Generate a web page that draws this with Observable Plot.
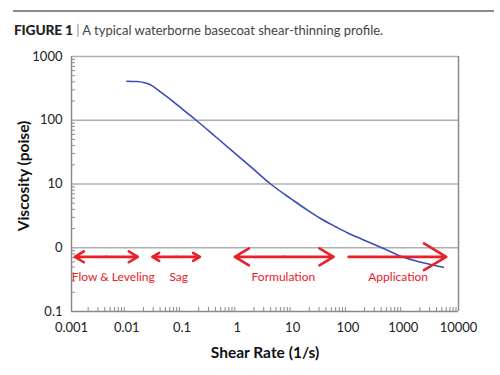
<!DOCTYPE html>
<html><head><meta charset="utf-8">
<script src="https://cdn.jsdelivr.net/npm/d3@7"></script>
<script src="https://cdn.jsdelivr.net/npm/@observablehq/plot@0.6"></script>
<style>
body{margin:0;background:#fff;font-family:Lato,"Open Sans",sans-serif;}
#wrap{width:500px;height:375px;position:relative;overflow:hidden;background:#fff;}
#rule{position:absolute;left:13px;top:10px;width:481px;height:2px;background:#8c8c8c;}
#title{position:absolute;left:14px;top:22px;font-size:13px;line-height:16px;color:#444;white-space:nowrap;}
#title b{color:#222;font-weight:900;letter-spacing:-0.2px;font-size:13.8px;}
#title .bar{color:#888;}
#chart{position:absolute;left:0;top:44px;}
</style></head><body>
<div id="wrap">
  <div id="rule"></div>
  <div id="title"><b>FIGURE 1</b> <span class="bar">|</span> A typical waterborne basecoat shear-thinning profile.</div>
  <div id="chart"></div>
</div>
<script>
// Curve data (shear rate in 1/s, viscosity in poise)
const shearRate = [0.01, 0.015, 0.02, 0.025, 0.04, 0.07, 0.1, 0.18, 0.4, 1, 2, 4, 10, 18.5, 32, 60, 100, 183, 420, 966, 2000, 5300];
const viscosity = [410, 405, 392, 370, 282, 195, 151, 100, 55.6, 28.2, 16.8, 10, 5.62, 3.89, 2.88, 2.14, 1.70, 1.35, 0.99, 0.72, 0.596, 0.494];

// Axis ticks and labels (the original labels 1 as "0")
const xTicks = [0.001, 0.01, 0.1, 1, 10, 100, 1000, 10000];
const xTickLabels = ["0.001", "0.01", "0.1", "1", "10", "100", "1000", "10000"];
const yTicks = [0.1, 1, 10, 100, 1000];
const yTickLabels = ["0.1", "0", "10", "100", "1000"];

// Process zones (red arrows)
const zoneNames = ["Flow & Leveling", "Sag", "Formulation", "Application"];
const zoneStart = [0.00115, 0.029, 0.9, 103];
const zoneEnd = [0.0158, 0.21, 55, 6000];
const zoneBothHeads = [true, true, true, false];
const zoneLabelX = [0.0057, 0.087, 6.8, 810];
const arrowLevel = 0.72;
const labelLevel = 0.34;

const xLabel = "Shear Rate (1/s)";
const yLabel = "Viscosity (poise)";

// Build tables
const curve = shearRate.map((x, i) => ({x, y: viscosity[i]}));
const arrows = [];
zoneNames.forEach((name, i) => {
  if (zoneBothHeads[i]) {
    const mid = Math.sqrt(zoneStart[i] * zoneEnd[i]);
    arrows.push({x1: mid, x2: zoneStart[i]});
    arrows.push({x1: mid, x2: zoneEnd[i]});
  } else {
    arrows.push({x1: zoneStart[i], x2: zoneEnd[i]});
  }
});
const labels = zoneNames.map((name, i) => ({name, x: zoneLabelX[i], y: labelLevel}));
const xTickTable = xTicks.map((v, i) => ({v, t: xTickLabels[i]}));
const yTickTable = yTicks.map((v, i) => ({v, t: yTickLabels[i]}));
const minorX = [], minorY = [];
xTicks.slice(0, -1).forEach(d => { for (let k = 2; k <= 9; k++) minorX.push(d * k); });
yTicks.slice(0, -1).forEach(d => { for (let k = 2; k <= 9; k++) minorY.push(d * k); });

const axisColor = "#8a8a8a";
const red = "#e8212b";

const chart = Plot.plot({
  width: 500,
  height: 331,
  marginTop: 12,
  marginBottom: 64,
  marginLeft: 71,
  marginRight: 42,
  x: {type: "log", domain: [xTicks[0], xTicks[xTicks.length - 1]], axis: null},
  y: {type: "log", domain: [yTicks[0], yTicks[yTicks.length - 1]], axis: null},
  style: {fontFamily: "Lato, 'Open Sans', sans-serif", fontSize: "13px", color: "#222", background: "#fff"},
  marks: [
    Plot.gridY(yTicks.slice(1), {stroke: "#b0b0b0", strokeOpacity: 1, strokeWidth: 1.5}),
    Plot.ruleX([xTicks[xTicks.length - 1]], {stroke: axisColor, strokeWidth: 1.5}),
    Plot.ruleX([xTicks[0]], {stroke: axisColor, strokeWidth: 1.5}),
    Plot.ruleY([yTicks[0]], {stroke: axisColor, strokeWidth: 1.5}),
    Plot.axisX({ticks: minorX, tickSize: -4, text: null, label: null, stroke: axisColor}),
    Plot.axisY({ticks: minorY, tickSize: -4, text: null, label: null, stroke: axisColor}),
    Plot.text(xTickTable, {x: "v", text: "t", frameAnchor: "bottom", lineAnchor: "middle", dy: 16, fill: "#222", fontSize: 13}),
    Plot.text(yTickTable, {y: "v", text: "t", frameAnchor: "left", textAnchor: "end", lineAnchor: "middle", dx: -9, fill: "#222", fontSize: 13}),
    Plot.line(curve, {x: "x", y: "y", stroke: "#3a4db5", strokeWidth: 1.6, curve: "monotone-x"}),
    Plot.arrow(arrows, {x1: "x1", x2: "x2", y1: () => arrowLevel, y2: () => arrowLevel, bend: 0, stroke: red, strokeWidth: 2.6, headLength: 15, headAngle: 62}),
    Plot.text(labels, {x: "x", y: "y", text: "name", fill: red, fontSize: 12}),
    Plot.text([xLabel], {frameAnchor: "bottom", lineAnchor: "middle", dy: 42, fontWeight: "bold", fontSize: 15.5, fill: "#111"}),
    Plot.text([yLabel], {frameAnchor: "left", textAnchor: "middle", lineAnchor: "middle", rotate: -90, dx: -47, dy: -8, fontWeight: "bold", fontSize: 15.5, fill: "#111"})
  ]
});
document.getElementById("chart").appendChild(chart);
</script>
</body></html>
